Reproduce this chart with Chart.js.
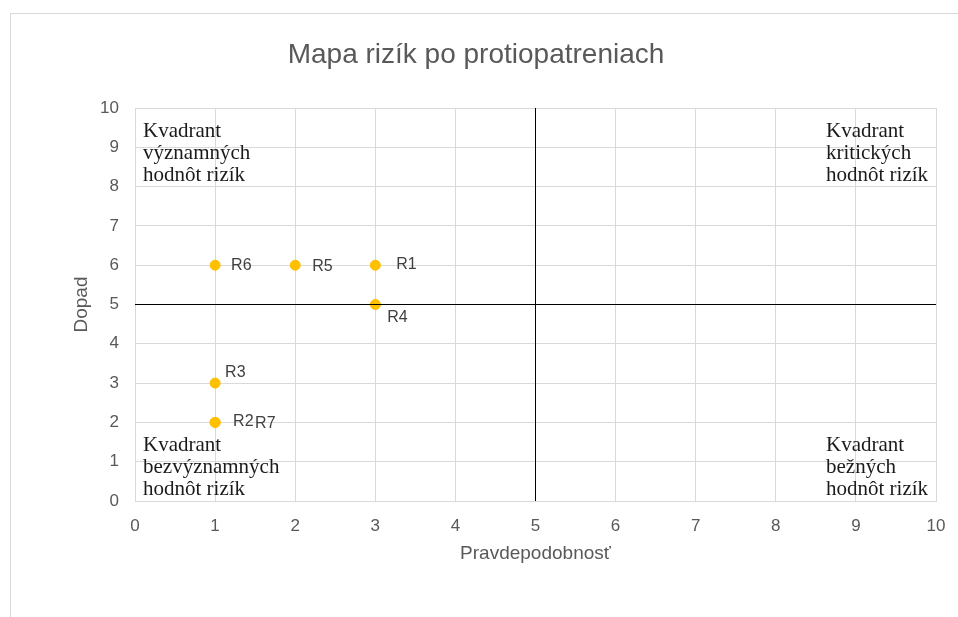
<!DOCTYPE html>
<html>
<head>
<meta charset="utf-8">
<title>Mapa rizík po protiopatreniach</title>
<script src="https://cdn.jsdelivr.net/npm/chart.js@4.4.1/dist/chart.umd.min.js"></script>
<style>
  html, body { margin: 0; padding: 0; background: #fff; }
  #chart { display: block; }
</style>
</head>
<body>
<canvas id="chart" width="958" height="617"></canvas>
<script>
// risks: name, probability (x), impact (y)
var riskNames   = ['R1', 'R2', 'R3', 'R4', 'R5', 'R6', 'R7'];
var probability = [3, 1, 1, 3, 2, 1, 1];
var impact      = [6, 2, 3, 5, 6, 6, 2];

// quadrant split lines
var splitVertX = [5, 5],  splitVertY = [0, 10];
var splitHorzX = [0, 10], splitHorzY = [5, 5];

var axisMin = 0, axisMax = 10, axisStep = 1;

var chartTitle = 'Mapa rizík po protiopatreniach';

var quadrantTexts = {
  topLeft:     ['Kvadrant', 'významných', 'hodnôt rizík'],
  topRight:    ['Kvadrant', 'kritických', 'hodnôt rizík'],
  bottomLeft:  ['Kvadrant', 'bezvýznamných', 'hodnôt rizík'],
  bottomRight: ['Kvadrant', 'bežných', 'hodnôt rizík']
};

// label nudges in px (dx, dy) so they sit like in the original
var labelNudge = {
  R1: [21, -1], R2: [18, -1], R3: [10, -11], R4: [12, 13],
  R5: [17, 1],  R6: [16, 0],  R7: [40, 1]
};

var GRAY = '#595959';
var SANS = '"Liberation Sans", Arial, sans-serif';

function pairs(xs, ys) {
  return xs.map(function(x, i) { return {x: x, y: ys[i]}; });
}

var framePlugin = {
  id: 'frame',
  beforeDraw: function(chart) {
    var ctx = chart.ctx;
    ctx.save();
    ctx.fillStyle = '#fff';
    ctx.fillRect(0, 0, chart.width, chart.height);
    ctx.strokeStyle = '#d9d9d9';
    ctx.lineWidth = 1;
    ctx.strokeRect(10.5, 13.5, 1000, 700);
    // title, centred on the frame rather than the plot
    ctx.font = '28px ' + SANS;
    ctx.fillStyle = GRAY;
    ctx.textAlign = 'center';
    ctx.textBaseline = 'middle';
    ctx.fillText(chartTitle, 476, 55);
    ctx.restore();
  }
};

var labelsPlugin = {
  id: 'riskLabels',
  afterDatasetsDraw: function(chart) {
    var ctx = chart.ctx;
    var meta = chart.getDatasetMeta(2);
    ctx.save();
    ctx.font = '16px ' + SANS;
    ctx.fillStyle = '#404040';
    ctx.textAlign = 'left';
    ctx.textBaseline = 'middle';
    meta.data.forEach(function(pt, i) {
      var n = labelNudge[riskNames[i]] || [12, 0];
      ctx.fillText(riskNames[i], pt.x + n[0], pt.y + n[1]);
    });

    // quadrant captions
    var a = chart.chartArea;
    var lh = 22;
    ctx.font = '21px "Liberation Serif", "Times New Roman", serif';
    ctx.fillStyle = '#1a1a1a';
    ctx.textBaseline = 'alphabetic';
    function block(lines, x, yFirst) {
      lines.forEach(function(t, k) { ctx.fillText(t, x, yFirst + k * lh); });
    }
    var leftX = a.left + 8, rightX = a.right - 110;
    var topY = a.top + 29, botY = a.bottom - 6 - 2 * lh;
    block(quadrantTexts.topLeft, leftX, topY);
    block(quadrantTexts.topRight, rightX, topY);
    block(quadrantTexts.bottomLeft, leftX, botY);
    block(quadrantTexts.bottomRight, rightX, botY);
    ctx.restore();
  }
};

new Chart(document.getElementById('chart'), {
  type: 'scatter',
  data: {
    datasets: [
      {
        type: 'line',
        data: pairs(splitVertX, splitVertY),
        borderColor: '#000', borderWidth: 1, pointRadius: 0
      },
      {
        type: 'line',
        data: pairs(splitHorzX, splitHorzY),
        borderColor: '#000', borderWidth: 1, pointRadius: 0
      },
      {
        label: 'Riziká',
        data: pairs(probability, impact),
        backgroundColor: '#ffc000',
        borderColor: '#ffc000',
        pointRadius: 5,
        pointHoverRadius: 5
      }
    ]
  },
  options: {
    responsive: false,
    animation: false,
    devicePixelRatio: 1,
    layout: { padding: { left: 66, right: 22, top: 108, bottom: 48 } },
    plugins: {
      legend: { display: false },
      tooltip: { enabled: false },
      title: { display: false }
    },
    scales: {
      x: {
        type: 'linear',
        min: axisMin, max: axisMax,
        afterFit: function(s) { s.height = 68; s.paddingRight = 0; },
        ticks: { stepSize: axisStep, color: GRAY, padding: 15, font: { family: SANS, size: 17 } },
        grid: { color: '#d9d9d9', drawTicks: false },
        border: { color: '#d9d9d9' },
        title: {
          display: true, text: 'Pravdepodobnosť', color: GRAY,
          font: { family: SANS, size: 19 }
        }
      },
      y: {
        type: 'linear',
        min: axisMin, max: axisMax,
        afterFit: function(s) { s.width = 69; },
        ticks: { stepSize: axisStep, color: GRAY, padding: 16, font: { family: SANS, size: 17 } },
        grid: { color: '#d9d9d9', drawTicks: false },
        border: { color: '#d9d9d9' },
        title: {
          display: true, text: 'Dopad', color: GRAY,
          font: { family: SANS, size: 19 }
        }
      }
    }
  },
  plugins: [framePlugin, labelsPlugin]
});
</script>
</body>
</html>
